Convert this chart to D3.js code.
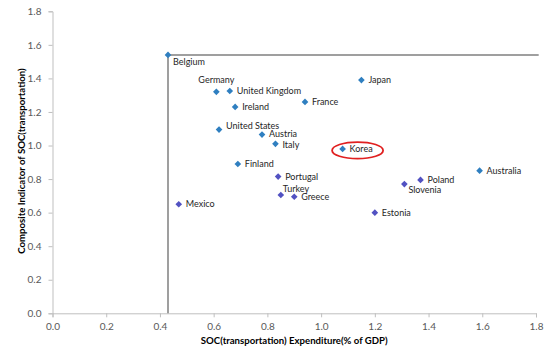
<!DOCTYPE html>
<html>
<head>
<meta charset="utf-8">
<script src="https://cdn.jsdelivr.net/npm/d3@7"></script>
<style>
  body { margin: 0; background: #fff; }
  svg { display: block; font-family: Lato, 'Open Sans', sans-serif; }
</style>
</head>
<body>
<svg id="chart" width="550" height="352"></svg>
<script>
// countries, spending (% of GDP) and composite indicator
const countries = ['Belgium', 'Germany', 'United Kingdom', 'Ireland', 'United States', 'Austria', 'Italy', 'Finland', 'Japan', 'France', 'Korea', 'Australia',
                   'Mexico', 'Portugal', 'Turkey', 'Greece', 'Poland', 'Slovenia', 'Estonia']
const expenditure = [0.43, 0.61, 0.66, 0.68, 0.62, 0.78, 0.83, 0.69, 1.15, 0.94, 1.08, 1.59,
                     0.47, 0.84, 0.85, 0.90, 1.37, 1.31, 1.20]
const indicator = [1.54, 1.32, 1.325, 1.23, 1.095, 1.065, 1.01, 0.89, 1.39, 1.26, 0.98, 0.85,
                   0.65, 0.815, 0.705, 0.695, 0.795, 0.77, 0.60]
// first 12 points are drawn in the lighter blue, the rest in purple-blue
const group = [0, 0, 0, 0, 0, 0, 0, 0, 0, 0, 0, 0, 1, 1, 1, 1, 1, 1, 1]
const xTicks = [0, 0.2, 0.4, 0.6, 0.8, 1.0, 1.2, 1.4, 1.6, 1.8]
const yTicks = [0, 0.2, 0.4, 0.6, 0.8, 1.0, 1.2, 1.4, 1.6, 1.8]
const refX = 0.43
const refY = 1.54
const highlight = 'Korea'

const colors = ['#2f7fc0', '#5252c2']
// label placement: [dx, dy, anchor]
const labelPos = {
  'Belgium': [5, 7, 'start'],
  'Germany': [0, -12, 'middle'],
  'United States': [7, -4, 'start'],
  'Austria': [7, -0.5, 'start'],
  'Italy': [7, 1, 'start'],
  'Turkey': [2, -6, 'start'],
  'Slovenia': [4, 6, 'start']
}
const place = name => labelPos[name] || [7, 0, 'start']

const svg = d3.select('#chart')
const x = d3.scaleLinear().domain([0, 1.8]).range([52.5, 536])
const y = d3.scaleLinear().domain([0, 1.8]).range([313.3, 11.3])

const xAxis = svg.append('g')
  .attr('transform', `translate(0,${y(0)})`)
  .call(d3.axisBottom(x).tickValues(xTicks).tickFormat(d3.format('.1f')).tickSizeOuter(0).tickSize(4).tickPadding(6))
const yAxis = svg.append('g')
  .attr('transform', `translate(${x(0)},0)`)
  .call(d3.axisLeft(y).tickValues(yTicks).tickFormat(d3.format('.1f')).tickSizeOuter(0).tickSize(4).tickPadding(7))

for (const g of [xAxis, yAxis]) {
  g.select('.domain').attr('stroke', '#bfbfbf')
  g.selectAll('.tick line').attr('stroke', '#bfbfbf')
  g.selectAll('.tick text').attr('fill', '#595959').style('font-size', '10px').style('font-family', 'Lato, sans-serif')
}

// reference lines
svg.append('line')
  .attr('x1', x(refX)).attr('x2', x(refX))
  .attr('y1', y(refY)).attr('y2', y(0))
  .attr('stroke', '#7f7f7f').attr('stroke-width', 1.5)
svg.append('line')
  .attr('x1', x(refX)).attr('x2', x(1.81))
  .attr('y1', y(refY)).attr('y2', y(refY))
  .attr('stroke', '#7f7f7f').attr('stroke-width', 1.5)

const data = countries.map((c, i) => ({name: c, x: expenditure[i], y: indicator[i], g: group[i]}))

svg.append('g').selectAll('path')
  .data(data)
  .enter()
  .append('path')
  .attr('d', d3.symbol(d3.symbolSquare, 22))
  .attr('transform', d => `translate(${x(d.x)},${y(d.y)}) rotate(45)`)
  .attr('fill', d => colors[d.g])

svg.append('g').selectAll('text')
  .data(data)
  .enter()
  .append('text')
  .attr('x', d => x(d.x) + place(d.name)[0])
  .attr('y', d => y(d.y) + place(d.name)[1])
  .attr('dy', '0.35em')
  .attr('text-anchor', d => place(d.name)[2])
  .style('font-size', '9px')
  .attr('fill', '#262626')
  .text(d => d.name)

// circle round Korea
const k = data.find(d => d.name === highlight)
svg.append('ellipse')
  .attr('cx', x(k.x) + 15).attr('cy', y(k.y) + 1.5)
  .attr('rx', 25.5).attr('ry', 8.3)
  .attr('fill', 'none').attr('stroke', '#e02020').attr('stroke-width', 1.8)

svg.append('text')
  .attr('x', (x(0) + x(1.8)) / 2)
  .attr('y', 344)
  .attr('text-anchor', 'middle')
  .style('font-size', '9.6px')
  .style('font-weight', 'bold')
  .attr('fill', '#000')
  .text('SOC(transportation) Expenditure(% of GDP)')

svg.append('text')
  .attr('transform', 'rotate(-90)')
  .attr('x', -161)
  .attr('y', 25)
  .attr('text-anchor', 'middle')
  .style('font-size', '9.6px')
  .style('font-weight', 'bold')
  .attr('fill', '#000')
  .text('Composite Indicator of SOC(transportation)')
</script>
</body>
</html>
